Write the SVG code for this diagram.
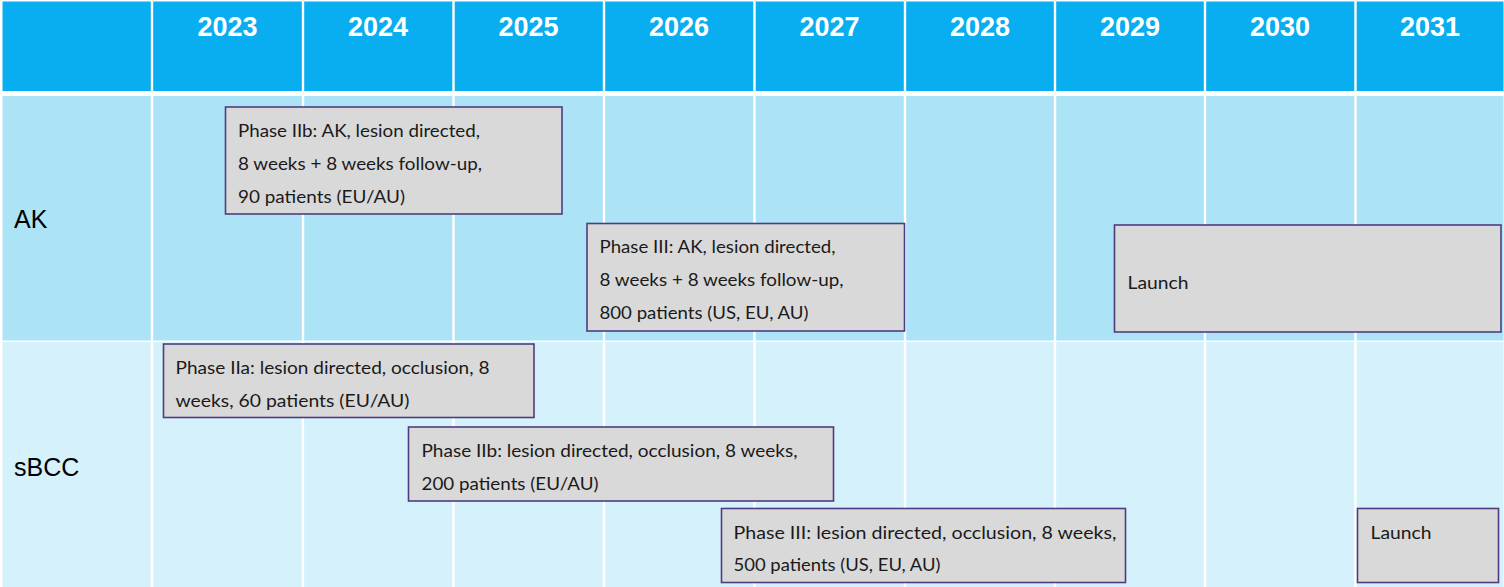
<svg xmlns="http://www.w3.org/2000/svg" width="1504" height="587" viewBox="0 0 1504 587">
<style>
.yr{font-family:"Liberation Sans",Arial,sans-serif;font-weight:bold;font-size:27px;fill:#ffffff;text-anchor:middle}
.lbl{font-family:"Liberation Sans",Arial,sans-serif;font-size:25px;fill:#000000}
.box{fill:#d9d9d9;stroke:#4f3c80;stroke-width:1.6}
.t{font-family:Lato,"Noto Sans",sans-serif;font-size:18px;fill:#1a1a1a}
.vl{stroke:#ffffff;stroke-width:2.4}
</style>
<rect x="0" y="0" width="1504" height="587" fill="#ffffff"/>
<g id="grid">
<rect x="2.5" y="1.5" width="1501" height="89.5" fill="#08aeef"/>
<rect x="2.5" y="96" width="1501" height="244.5" fill="#ade3f6"/>
<rect x="2.5" y="342" width="1501" height="245" fill="#d5f1fb"/>
<g class="vl">
<line x1="152" y1="0" x2="152" y2="587"/>
<line x1="303" y1="0" x2="303" y2="587"/>
<line x1="453.5" y1="0" x2="453.5" y2="587"/>
<line x1="604" y1="0" x2="604" y2="587"/>
<line x1="754.5" y1="0" x2="754.5" y2="587"/>
<line x1="905" y1="0" x2="905" y2="587"/>
<line x1="1055" y1="0" x2="1055" y2="587"/>
<line x1="1205" y1="0" x2="1205" y2="587"/>
<line x1="1355.5" y1="0" x2="1355.5" y2="587"/>
</g>
</g>
<g id="header">
<text class="yr" x="227.5" y="36">2023</text>
<text class="yr" x="378" y="36">2024</text>
<text class="yr" x="528.5" y="36">2025</text>
<text class="yr" x="679" y="36">2026</text>
<text class="yr" x="829.5" y="36">2027</text>
<text class="yr" x="980" y="36">2028</text>
<text class="yr" x="1130" y="36">2029</text>
<text class="yr" x="1280" y="36">2030</text>
<text class="yr" x="1430" y="36">2031</text>
</g>
<g id="row-ak"><text class="lbl" x="14" y="228">AK</text></g>
<g id="row-sbcc"><text class="lbl" x="14" y="476">sBCC</text></g>
<g id="ak-phase2b">
<rect class="box" x="225.5" y="107" width="336.5" height="107"/>
<text class="t" x="238" y="137" textLength="242" lengthAdjust="spacingAndGlyphs">Phase IIb: AK, lesion directed,</text>
<text class="t" x="238" y="170" textLength="244" lengthAdjust="spacingAndGlyphs">8 weeks + 8 weeks follow-up,</text>
<text class="t" x="238" y="203" textLength="167" lengthAdjust="spacingAndGlyphs">90 patients (EU/AU)</text>
</g>
<g id="ak-phase3">
<rect class="box" x="587" y="223.5" width="317.5" height="107.5"/>
<text class="t" x="599.5" y="253" textLength="236" lengthAdjust="spacingAndGlyphs">Phase III: AK, lesion directed,</text>
<text class="t" x="599.5" y="286" textLength="244" lengthAdjust="spacingAndGlyphs">8 weeks + 8 weeks follow-up,</text>
<text class="t" x="599.5" y="319" textLength="209" lengthAdjust="spacingAndGlyphs">800 patients (US, EU, AU)</text>
</g>
<g id="ak-launch">
<rect class="box" x="1114.5" y="225" width="386.5" height="107"/>
<text class="t" x="1127.5" y="289" textLength="61" lengthAdjust="spacingAndGlyphs">Launch</text>
</g>
<g id="sbcc-phase2a">
<rect class="box" x="163.5" y="344" width="370.5" height="73.5"/>
<text class="t" x="175.5" y="374" textLength="314" lengthAdjust="spacingAndGlyphs">Phase IIa: lesion directed, occlusion, 8</text>
<text class="t" x="175.5" y="407" textLength="234" lengthAdjust="spacingAndGlyphs">weeks, 60 patients (EU/AU)</text>
</g>
<g id="sbcc-phase2b">
<rect class="box" x="408.5" y="427" width="425" height="74"/>
<text class="t" x="421.5" y="457" textLength="376" lengthAdjust="spacingAndGlyphs">Phase IIb: lesion directed, occlusion, 8 weeks,</text>
<text class="t" x="421.5" y="490" textLength="177" lengthAdjust="spacingAndGlyphs">200 patients (EU/AU)</text>
</g>
<g id="sbcc-phase3">
<rect class="box" x="721.5" y="508.5" width="404" height="74"/>
<text class="t" x="733.5" y="538.5" textLength="383" lengthAdjust="spacingAndGlyphs">Phase III: lesion directed, occlusion, 8 weeks,</text>
<text class="t" x="733.5" y="571" textLength="207" lengthAdjust="spacingAndGlyphs">500 patients (US, EU, AU)</text>
</g>
<g id="sbcc-launch">
<rect class="box" x="1357.5" y="508.5" width="141" height="74"/>
<text class="t" x="1370.5" y="539" textLength="61" lengthAdjust="spacingAndGlyphs">Launch</text>
</g>
</svg>
